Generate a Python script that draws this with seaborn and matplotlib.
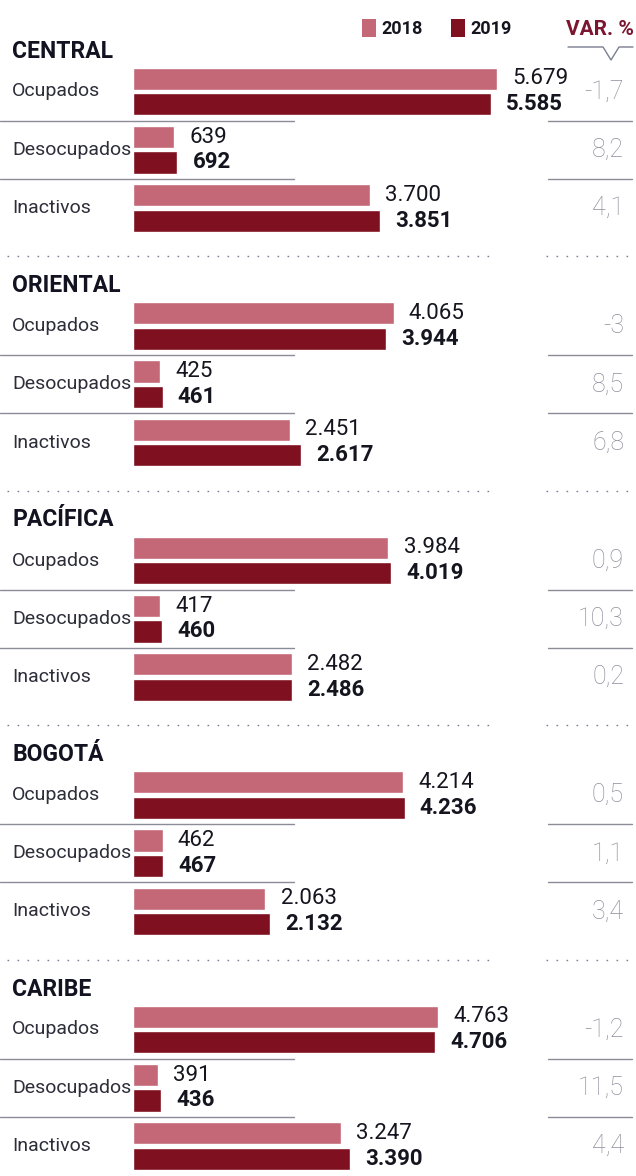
import numpy as np
import pandas as pd
import seaborn as sns
import matplotlib.pyplot as plt
from matplotlib.lines import Line2D
from matplotlib.patches import Rectangle
from matplotlib.transforms import blended_transform_factory

# datos (miles de personas)
regions = ['CENTRAL', 'ORIENTAL', 'PACÍFICA', 'BOGOTÁ', 'CARIBE']
categories = ['Ocupados', 'Desocupados', 'Inactivos']
years = ['2018', '2019']

central_2018 = [5679, 639, 3700]
central_2019 = [5585, 692, 3851]
oriental_2018 = [4065, 425, 2451]
oriental_2019 = [3944, 461, 2617]
pacifica_2018 = [3984, 417, 2482]
pacifica_2019 = [4019, 460, 2486]
bogota_2018 = [4214, 462, 2063]
bogota_2019 = [4236, 467, 2132]
caribe_2018 = [4763, 391, 3247]
caribe_2019 = [4706, 436, 3390]

central_var = [-1.7, 8.2, 4.1]
oriental_var = [-3, 8.5, 6.8]
pacifica_var = [0.9, 10.3, 0.2]
bogota_var = [0.5, 1.1, 3.4]
caribe_var = [-1.2, 11.5, 4.4]

vals_2018 = [central_2018, oriental_2018, pacifica_2018, bogota_2018, caribe_2018]
vals_2019 = [central_2019, oriental_2019, pacifica_2019, bogota_2019, caribe_2019]
vals_var = [central_var, oriental_var, pacifica_var, bogota_var, caribe_var]

rows = []
for reg, a, b in zip(regions, vals_2018, vals_2019):
    for cat, v1, v2 in zip(categories, a, b):
        rows.append([reg, cat, '2018', v1])
        rows.append([reg, cat, '2019', v2])
df = pd.DataFrame(rows, columns=['region', 'categoria', 'anio', 'valor'])

# colores
c18 = '#C46877'
c19 = '#7F1020'
txt_dark = '#15151f'
txt_label = '#2e2e3a'
txt_var = '#8d8f9c'
line_col = '#8a8c98'

sns.set_theme(style='white')
plt.rcParams['font.family'] = ['Roboto', 'DejaVu Sans']

W, H = 636, 1176
fig = plt.figure(figsize=(W / 100, H / 100), dpi=100)
fig.patch.set_facecolor('white')


def fx(x):
    return x / W


def fy(y):
    return 1 - y / H


def miles(v):
    return f"{int(v):,}".replace(',', '.')


def var_txt(v):
    return f"{v:g}".replace('.', ',')


def hline(x0, x1, y, **kw):
    fig.add_artist(Line2D([fx(x0), fx(x1)], [fy(y), fy(y)], transform=fig.transFigure, **kw))


bar_x0 = 133
px_per_unit = 0.0641
xmax = (W - bar_x0) / px_per_unit
row_pitch = 58.25
sec_pitch = 234.5
first_center = 91.5

for k, reg in enumerate(regions):
    c0 = first_center + k * sec_pitch
    top = c0 - row_pitch / 2
    ax = fig.add_axes([fx(bar_x0), fy(top + 3 * row_pitch), (W - bar_x0) / W, 3 * row_pitch / H])
    sub = df[df['region'] == reg]
    sns.barplot(data=sub, x='valor', y='categoria', hue='anio', order=categories,
                hue_order=years, palette=[c18, c19], orient='h', width=0.87, gap=0.12,
                saturation=1, legend=False, ax=ax)
    ax.set_xlim(0, xmax)
    ax.set_ylim(2.5, -0.5)
    ax.set_axis_off()

    # etiquetas de valor
    for cont, vals, weight in zip(ax.containers, [vals_2018[k], vals_2019[k]], ['normal', 'bold']):
        ax.bar_label(cont, labels=[miles(v) for v in vals], padding=11, fontsize=16,
                     fontweight=weight, color=txt_dark)

    trans = blended_transform_factory(fig.transFigure, ax.transData)
    for i, cat in enumerate(categories):
        ax.text(fx(12), i, cat, transform=trans, ha='left', va='center',
                fontsize=14, color=txt_label)
        ax.text(fx(624), i, var_txt(vals_var[k][i]), transform=trans, ha='right',
                va='center', fontsize=18, fontweight='light', color=txt_var)

    # separadores entre filas
    for j in (0.5, 1.5):
        y = c0 + j * row_pitch
        hline(0, 294, y, color=line_col, lw=1)
        hline(548, 632, y, color=line_col, lw=1)

    # titulo de region
    fig.text(fx(12), fy(c0 - 40.5), reg, ha='left', va='center', fontsize=16.5,
             fontweight='bold', color='#121220')

    # separador punteado
    if k > 0:
        y = c0 - 70
        hline(7, 496, y, color='#7a8299', lw=1, linestyle=(0, (1.2, 6)))
        hline(546, 636, y, color='#7a8299', lw=1, linestyle=(0, (1.2, 6)))

# leyenda
for x0, col, lab in [(362, c18, '2018'), (451, c19, '2019')]:
    fig.add_artist(Rectangle((fx(x0), fy(37)), 14 / W, 18 / H, transform=fig.transFigure,
                             facecolor=col, edgecolor='none'))
    fig.text(fx(x0 + 19), fy(28.5), lab, ha='left', va='center', fontsize=13,
             fontweight='bold', color=txt_dark)

fig.text(fx(634), fy(29.5), 'VAR. %', ha='right', va='center', fontsize=15,
         fontweight='bold', color='#7a1630')
fig.add_artist(Line2D([fx(568), fx(603), fx(611), fx(619), fx(633)],
                      [fy(47), fy(47), fy(60), fy(47), fy(47)],
                      transform=fig.transFigure, color='#7a7f90', lw=1))

fig.savefig('out.png', dpi=100)
